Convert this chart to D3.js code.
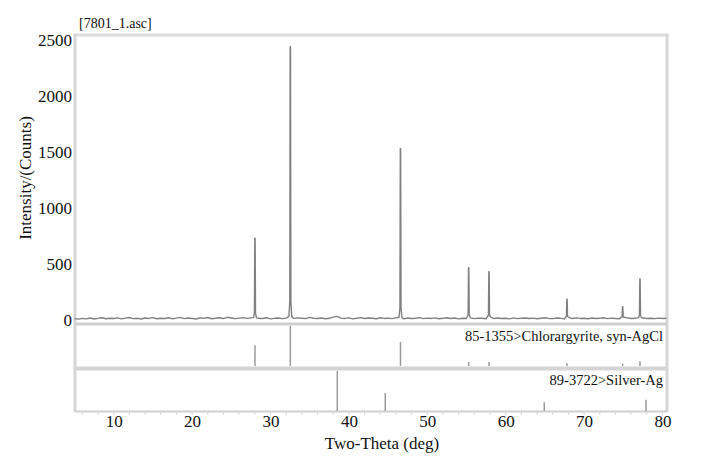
<!DOCTYPE html>
<html>
<head>
<meta charset="utf-8">
<script src="https://cdn.jsdelivr.net/npm/d3@7"></script>
<style>
  html, body { margin: 0; padding: 0; background: #fff; }
  svg { display: block; font-family: "Liberation Serif", "Times New Roman", serif; }
</style>
</head>
<body>
<svg id="chart" width="709" height="465"></svg>
<script>
// ---------------- data ----------------
const title = "[7801_1.asc]";
const xTickValues = [10, 20, 30, 40, 50, 60, 70, 80];
const yTickValues = [0, 500, 1000, 1500, 2000, 2500];

// background counts, every 0.5 deg from 5.0 to 80.5
const bgStart = 5.0;
const bgStep = 0.5;
const bgCounts = [
  12, 8, 15, 10, 18, 9, 14, 20, 11, 16, 13, 19, 10, 17, 22, 12,
  15, 9, 18, 14, 21, 11, 16, 13, 20, 10, 17, 23, 12, 18, 14, 9,
  19, 15, 22, 11, 16, 20, 13, 24, 18, 12, 17, 21, 14, 19, 11, 16,
  13, 20, 10, 15, 18, 12, 17, 22, 14, 19, 16, 12, 24, 16, 13, 18,
  11, 15, 26, 32, 17, 14, 19, 10, 16, 21, 13, 18, 15, 11, 20, 14,
  17, 12, 19, 15, 10, 18, 13, 16, 21, 12, 17, 14, 19, 11, 15, 20,
  13, 18, 10, 16, 14, 19, 12, 17, 15, 11, 20, 13, 18, 14, 16, 10,
  19, 12, 15, 18, 13, 17, 11, 16, 20, 14, 12, 18, 15, 10, 17, 13,
  19, 14, 16, 11, 18, 13, 15, 20, 12, 17, 14, 10, 16, 19, 13, 15,
  11, 18, 14, 16, 12, 17, 13, 15
];

// measured peaks: position (2-theta) and intensity (counts)
const peakPos    = [28.02, 32.53, 46.58, 55.28, 57.87, 67.82, 74.92, 77.13];
const peakCounts = [730,   2440,  1530,  467,   431,   185,   119,   366];

// reference pattern 85-1355 Chlorargyrite, syn-AgCl
const chlorLabel = "85-1355>Chlorargyrite, syn-AgCl";
const chlorPos = [28.02, 32.53, 46.58, 55.28, 57.87, 67.82, 74.92, 77.13];
const chlorRel = [52, 100, 60, 10, 10, 7, 6, 12];

// reference pattern 89-3722 Silver-Ag
const agLabel = "89-3722>Silver-Ag";
const agPos = [38.52, 44.64, 64.92, 77.9];
const agRel = [100, 45, 22, 28];

// ---------------- chart ----------------
const svg = d3.select("#chart");

const x = d3.scaleLinear().domain([5, 80.64]).range([74.5, 667.5]);
const y = d3.scaleLinear().domain([0, 2500]).range([320, 40]);
const yChlor = d3.scaleLinear().domain([0, 100]).range([366, 326]);
const yAg = d3.scaleLinear().domain([0, 100]).range([411, 371]);

// build trace points: background + sharp peaks
const bgPts = bgCounts.map((c, i) => [bgStart + i * bgStep, c]);
const bgAt = v => {
  const i = Math.max(0, Math.min(bgCounts.length - 1, Math.round((v - bgStart) / bgStep)));
  return bgCounts[i];
};
let pts = bgPts.slice();
peakPos.forEach((p, i) => {
  pts = pts.filter(d => Math.abs(d[0] - p) > 0.2);
  pts.push([p - 0.18, bgAt(p) + 10]);
  pts.push([p - 0.07, peakCounts[i] * 0.06 + 20]);
  pts.push([p - 0.02, peakCounts[i]]);
  pts.push([p + 0.02, peakCounts[i]]);
  pts.push([p + 0.07, peakCounts[i] * 0.06 + 20]);
  pts.push([p + 0.18, bgAt(p) + 8]);
});
pts.sort((a, b) => a[0] - b[0]);

// frame bands
const frame = svg.append("g");
const band = (x1, y1, x2, y2, w, c) =>
  frame.append("line").attr("x1", x1).attr("y1", y1).attr("x2", x2).attr("y2", y2)
    .attr("stroke", c).attr("stroke-width", w);

// sticks (drawn under the frame)
const sticks = svg.append("g").attr("stroke", "#9a9a9a").attr("stroke-width", 1.5);
sticks.selectAll(".c").data(chlorPos).join("line")
  .attr("x1", d => x(d)).attr("x2", d => x(d))
  .attr("y1", yChlor(0)).attr("y2", (d, i) => yChlor(chlorRel[i]));
sticks.selectAll(".a").data(agPos).join("line")
  .attr("x1", d => x(d)).attr("x2", d => x(d))
  .attr("y1", yAg(0)).attr("y2", (d, i) => yAg(agRel[i]));

// trace
svg.append("path").datum(pts)
  .attr("fill", "none")
  .attr("stroke", "#808080")
  .attr("stroke-width", 1.4)
  .attr("stroke-linejoin", "round")
  .attr("d", d3.line().x(d => x(d[0])).y(d => y(d[1])));

band(73.5, 35, 668.5, 35, 3, "#dcdcdc");
band(75, 34, 75, 412, 3, "#d6d6d6");
band(667, 34, 667, 412, 3, "#d6d6d6");
band(75, 324, 667, 324, 3, "#cfcfcf");
band(75, 368.5, 667, 368.5, 4, "#d4d4d4");
band(75, 411.5, 667, 411.5, 2, "#d0d0d0");

// x axis
const xAxis = d3.axisBottom(x).tickValues(xTickValues).tickSize(0).tickPadding(3).tickFormat(d3.format("d"));
const gx = svg.append("g").attr("transform", "translate(0,412)").call(xAxis);
gx.select(".domain").remove();
gx.selectAll("text").attr("font-size", 17).attr("fill", "#111").attr("font-family", "Liberation Serif");
// minor ticks
svg.append("g").selectAll("line").data(d3.range(6, 81, 2)).join("line")
  .attr("x1", d => x(d)).attr("x2", d => x(d))
  .attr("y1", 412).attr("y2", 415)
  .attr("stroke", "#d8d8d8").attr("stroke-width", 1);

// y axis
const yAxis = d3.axisLeft(y).tickValues(yTickValues).tickSize(0).tickPadding(2).tickFormat(d3.format("d"));
const gy = svg.append("g").attr("transform", "translate(74,0)").call(yAxis);
gy.select(".domain").remove();
gy.selectAll("text").attr("font-size", 17).attr("fill", "#111").attr("font-family", "Liberation Serif");

// labels
svg.append("text").attr("x", 382).attr("y", 449).attr("text-anchor", "middle")
  .attr("font-size", 17).attr("fill", "#111").text("Two-Theta (deg)");
svg.append("text").attr("transform", "translate(31,178) rotate(-90)").attr("text-anchor", "middle")
  .attr("font-size", 17).attr("fill", "#111").text("Intensity/(Counts)");
svg.append("text").attr("x", 79).attr("y", 28)
  .attr("font-size", 14).attr("fill", "#111").text(title);
svg.append("text").attr("x", 663).attr("y", 341).attr("text-anchor", "end")
  .attr("font-size", 14.5).attr("fill", "#111").text(chlorLabel);
svg.append("text").attr("x", 663).attr("y", 385).attr("text-anchor", "end")
  .attr("font-size", 14.5).attr("fill", "#111").text(agLabel);
</script>
</body>
</html>
